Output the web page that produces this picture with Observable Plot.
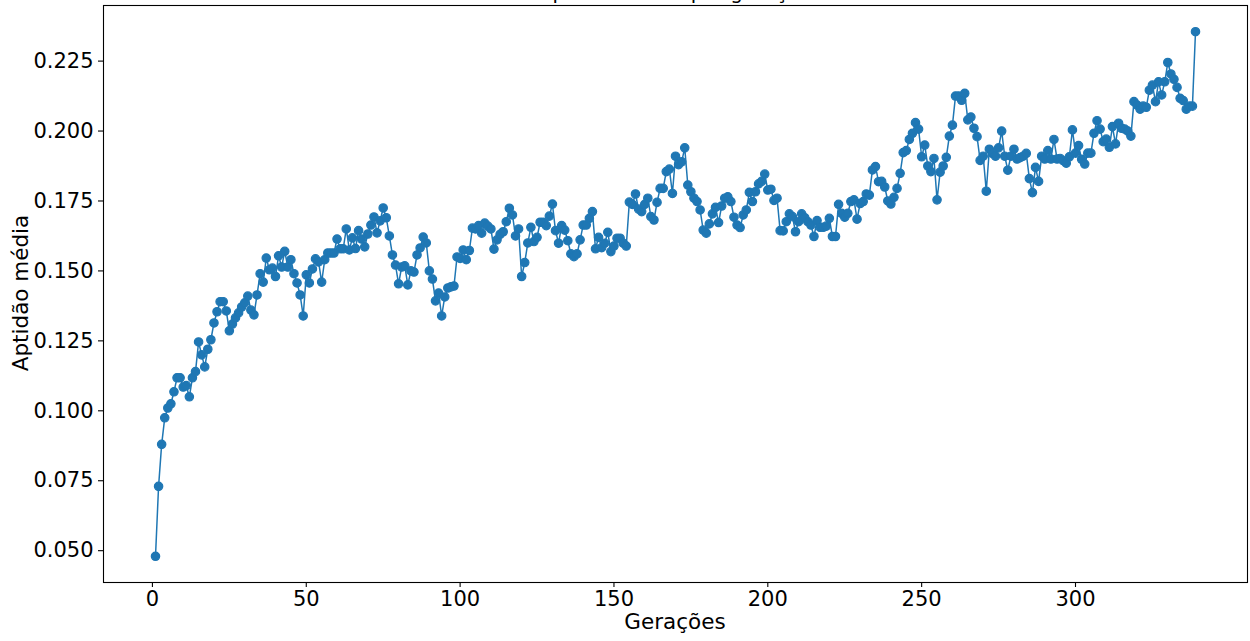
<!DOCTYPE html>
<html>
<head>
<meta charset="utf-8">
<script src="https://cdn.jsdelivr.net/npm/d3@7"></script>
<script src="https://cdn.jsdelivr.net/npm/@observablehq/plot@0.6"></script>
<style>
  html, body { margin: 0; padding: 0; background: #ffffff; }
  #chart { width: 1250px; height: 641px; overflow: hidden; }
  svg { font-family: "DejaVu Sans", sans-serif; }
</style>
</head>
<body>
<div id="chart"></div>
<script>
// Mean fitness per generation
const fitness = [
  0.048, 0.073, 0.088, 0.0975, 0.101, 0.1025, 0.1068, 0.1118, 0.1118, 0.1085,
  0.109, 0.105, 0.1118, 0.114, 0.1246, 0.120, 0.1157, 0.122, 0.1254, 0.1314,
  0.1354, 0.139, 0.139, 0.1357, 0.1286, 0.131, 0.1332, 0.135, 0.1371, 0.1386,
  0.141, 0.136, 0.1343, 0.1414, 0.149, 0.146, 0.1546, 0.1504, 0.151, 0.148,
  0.1554, 0.1514, 0.157, 0.1514, 0.154, 0.149, 0.1457, 0.1414, 0.1339, 0.1486,
  0.1457, 0.1507, 0.1543, 0.1532, 0.146, 0.154, 0.1564, 0.1564, 0.1564, 0.1614,
  0.1579, 0.1579, 0.165, 0.1575, 0.1618, 0.158, 0.1644, 0.1614, 0.1586, 0.1632,
  0.1664, 0.1693, 0.1636, 0.1679, 0.1725, 0.169, 0.1625, 0.1557, 0.1521, 0.1454,
  0.1514, 0.1518, 0.145, 0.150, 0.1496, 0.1557, 0.1582, 0.1621, 0.160, 0.150,
  0.1471, 0.1393, 0.1421, 0.1339, 0.1407, 0.1439, 0.1443, 0.1446, 0.155, 0.1545,
  0.1575, 0.154, 0.1573, 0.1653, 0.165, 0.1662, 0.1635, 0.1671, 0.166, 0.165,
  0.1578, 0.1611, 0.1631, 0.164, 0.1676, 0.1724, 0.170, 0.1625, 0.165, 0.148,
  0.153, 0.160, 0.1656, 0.1605, 0.162, 0.1674, 0.1674, 0.1662, 0.1696, 0.1739,
  0.1644, 0.1599, 0.1662, 0.1646, 0.1608, 0.1561, 0.1551, 0.1561, 0.1611, 0.1664,
  0.1664, 0.1688, 0.1712, 0.1579, 0.162, 0.1583, 0.1599, 0.1638, 0.1569, 0.1589,
  0.1617, 0.1617, 0.1599, 0.1589, 0.1746, 0.1738, 0.1775, 0.1721, 0.1712, 0.1738,
  0.176, 0.1694, 0.1682, 0.1745, 0.1795, 0.1795, 0.1855, 0.1864, 0.1777, 0.191,
  0.188, 0.189, 0.194, 0.1807, 0.1783, 0.176, 0.1748, 0.1718, 0.1646, 0.1635,
  0.1668, 0.1704, 0.1727, 0.1673, 0.1732, 0.176, 0.1765, 0.1748, 0.1692, 0.1664,
  0.1655, 0.170, 0.1718, 0.1781, 0.1748, 0.1783, 0.1811, 0.182, 0.1846, 0.1789,
  0.1792, 0.1752, 0.176, 0.1644, 0.1643, 0.1676, 0.1704, 0.1694, 0.164, 0.1676,
  0.1704, 0.169, 0.1676, 0.1664, 0.1623, 0.168, 0.1656, 0.1656, 0.166, 0.1688,
  0.1623, 0.1623, 0.1738, 0.1706, 0.1692, 0.1706, 0.1748, 0.1754, 0.1685, 0.1741,
  0.1748, 0.1775, 0.1771, 0.1861, 0.1873, 0.1819, 0.182, 0.180, 0.175, 0.1739,
  0.1763, 0.1795, 0.1849, 0.1923, 0.193, 0.197, 0.1992, 0.203, 0.2007, 0.1908,
  0.195, 0.1875, 0.1855, 0.1902, 0.1754, 0.1853, 0.1875, 0.1906, 0.1982, 0.2021,
  0.2125, 0.2125, 0.211, 0.2135, 0.204, 0.205, 0.201, 0.198, 0.1895, 0.191,
  0.1785, 0.1935, 0.192, 0.191, 0.194, 0.200, 0.191, 0.186, 0.191, 0.1935,
  0.190, 0.1905, 0.191, 0.192, 0.183, 0.178, 0.187, 0.182, 0.191, 0.190,
  0.193, 0.190, 0.197, 0.190, 0.1902, 0.1894, 0.1885, 0.1908, 0.2004, 0.1921,
  0.1948, 0.1899, 0.1882, 0.1921, 0.1921, 0.1992, 0.2037, 0.2007, 0.1962, 0.1971,
  0.1942, 0.2016, 0.1954, 0.2028, 0.201, 0.2007, 0.200, 0.1982, 0.2105, 0.2093,
  0.2078, 0.2089, 0.2085, 0.2146, 0.2164, 0.2105, 0.2176, 0.2129, 0.2176, 0.2245,
  0.2204, 0.2185, 0.2156, 0.2117, 0.2109, 0.2078, 0.2089, 0.2089, 0.2355
];
// Generation numbers (1 .. N)
const generations = fitness.map((_, i) => i + 1);

const xTicks = [0, 50, 100, 150, 200, 250, 300];
const yTicks = [0.050, 0.075, 0.100, 0.125, 0.150, 0.175, 0.200, 0.225];

const titleText = "Aptidão média por geração";
const xLabel = "Gerações";
const yLabel = "Aptidão média";

const data = generations.map((g, i) => ({g, v: fitness[i]}));

// matplotlib-like 5% margins around the data extent
const gx = d3.extent(generations), vy = d3.extent(fitness);
const padX = (gx[1] - gx[0]) * 0.05, padY = (vy[1] - vy[0]) * 0.05;

const blue = "#1f77b4";

const chart = Plot.plot({
  width: 1250,
  height: 641,
  marginLeft: 103,
  marginRight: 3,
  marginTop: 5,
  marginBottom: 59,
  style: {fontFamily: "DejaVu Sans, sans-serif", background: "#ffffff", color: "#000000", overflow: "visible"},
  x: {domain: [gx[0] - padX, gx[1] + padX]},
  y: {domain: [vy[0] - padY, vy[1] + padY]},
  marks: [
    Plot.axisX({ticks: xTicks, tickSize: 5, tickPadding: 4, fontSize: 21, strokeWidth: 1.1, label: null, tickFormat: d => String(d)}),
    Plot.axisY({ticks: yTicks, tickSize: 5, tickPadding: 5, fontSize: 21, strokeWidth: 1.1, label: null, tickFormat: d3.format(".3f")}),
    Plot.line(data, {x: "g", y: "v", stroke: blue, strokeWidth: 1.5}),
    Plot.dot(data, {x: "g", y: "v", r: 4.2, fill: blue, stroke: blue, strokeWidth: 1.2}),
    Plot.frame({stroke: "#000000", strokeWidth: 1.1})
  ]
});

const svg = d3.select(chart);
svg.append("text")
  .attr("x", 675).attr("y", 629)
  .attr("text-anchor", "middle")
  .style("font-size", "21.5px").style("font-family", "DejaVu Sans, sans-serif")
  .attr("fill", "#000")
  .text(xLabel);
svg.append("text")
  .attr("transform", "translate(28,293) rotate(-90)")
  .attr("text-anchor", "middle")
  .style("font-size", "21.5px").style("font-family", "DejaVu Sans, sans-serif")
  .attr("fill", "#000")
  .text(yLabel);
svg.append("text")
  .attr("x", 675).attr("y", -1)
  .attr("text-anchor", "middle")
  .style("font-size", "20px").style("font-family", "DejaVu Sans, sans-serif")
  .attr("fill", "#000")
  .text(titleText);

document.getElementById("chart").appendChild(chart);
</script>
</body>
</html>
